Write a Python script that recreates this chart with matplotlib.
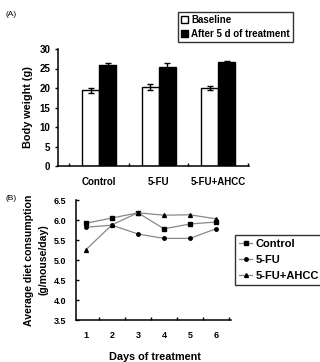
import matplotlib
matplotlib.use("Agg")
import matplotlib.pyplot as plt
import numpy as np
from matplotlib.patches import Patch

plt.rcParams['font.family'] = ['Liberation Sans', 'DejaVu Sans']
plt.rcParams['font.weight'] = 'bold'

groups = ["Control", "5-FU", "5-FU+AHCC"]
baseline = [19.4, 20.2, 19.95]
baseline_err = [0.7, 0.8, 0.5]
after = [25.8, 25.5, 26.55]
after_err = [0.7, 0.9, 0.45]

days = [1, 2, 3, 4, 5, 6]
control = [5.92, 6.05, 6.18, 5.78, 5.90, 5.95]
fu = [5.82, 5.87, 5.65, 5.54, 5.54, 5.78]
fu_ahcc = [5.26, 5.88, 6.18, 6.12, 6.13, 6.03]

W, H = 320, 362
fig = plt.figure(figsize=(W/100, H/100), dpi=100)

# Panel A
ax1 = fig.add_axes([58/W, 1-166/H, 191/W, 117/H])
x = np.arange(len(groups))
bw = 0.285
ekw = dict(ecolor='black', elinewidth=1.0, capsize=2, capthick=1.0)
ax1.bar(x - bw/2, baseline, bw, color='white', edgecolor='black', linewidth=1.0,
        yerr=baseline_err, error_kw=ekw)
ax1.bar(x + bw/2, after, bw, color='black', edgecolor='black', linewidth=1.0,
        yerr=after_err, error_kw=ekw)
ax1.set_xlim(-0.69, 2.52)
ax1.set_ylim(0, 30)
ax1.set_yticks([0, 5, 10, 15, 20, 25, 30])
ax1.set_xticks([-0.5, 0.5, 1.5, 2.5])
ax1.set_xticklabels([])
ax1.tick_params(axis='x', direction='in', length=2, width=1.0)
ax1.tick_params(axis='y', direction='out', length=2.5, width=1.0, labelsize=7, pad=3)
for g, xi in zip(groups, x):
    ax1.text(xi, -4.0, g, ha='center', va='center', fontsize=7, fontweight='bold')
for s in ['top', 'right']:
    ax1.spines[s].set_visible(False)
for s in ['left', 'bottom']:
    ax1.spines[s].set_linewidth(1.1)
ax1.set_ylabel("Body weight (g)", fontsize=7.8, fontweight='bold', labelpad=5)
handles = [Patch(facecolor='white', edgecolor='black', linewidth=1.0),
           Patch(facecolor='black', edgecolor='black')]
leg1 = fig.legend(handles, ["Baseline", "After 5 d of treatment"],
                  loc='upper left', bbox_to_anchor=(178/W, 1-12/H), prop=dict(size=7, weight='bold'),
                  frameon=True, fancybox=False, edgecolor='black', handlelength=0.7, handleheight=0.7,
                  handletextpad=0.35, borderpad=0.3, labelspacing=0.45, borderaxespad=0)
leg1.get_frame().set_linewidth(1.0)
fig.text(5/W, 1-15/H, "(A)", fontsize=6, fontweight='normal', va='center')

# Panel B
ax2 = fig.add_axes([76/W, 1-320/H, 155/W, 120/H])
lc = '#888888'
ax2.plot(days, control, color=lc, lw=0.9, marker='s', ms=2.5, mfc='black', mec='black', label="Control")
ax2.plot(days, fu, color=lc, lw=0.9, marker='o', ms=2.5, mfc='black', mec='black', label="5-FU")
ax2.plot(days, fu_ahcc, color=lc, lw=0.9, marker='^', ms=2.8, mfc='black', mec='black', label="5-FU+AHCC")
ax2.set_xlim(0.615, 6.58)
ax2.set_ylim(3.5, 6.5)
yt = [3.5, 4.0, 4.5, 5.0, 5.5, 6.0, 6.5]
ax2.set_yticks(yt)
ax2.set_yticklabels([f"{v:.1f}" for v in yt])
ax2.set_xticks([1.5, 2.5, 3.5, 4.5, 5.5, 6.5])
ax2.set_xticklabels([])
ax2.tick_params(axis='x', direction='in', length=2, width=1.0)
ax2.tick_params(axis='y', direction='in', length=2, width=1.0, labelsize=6.5, pad=7)
for d in days:
    ax2.text(d, 3.5 - 0.38, str(d), ha='center', va='center', fontsize=6.5, fontweight='bold')
ax2.text(3.65, 3.5 - 0.92, "Days of treatment", ha='center', va='center', fontsize=7.8, fontweight='bold')
for s in ['top', 'right']:
    ax2.spines[s].set_visible(False)
for s in ['left', 'bottom']:
    ax2.spines[s].set_linewidth(1.1)
ax2.set_ylabel("Average diet consumption\n(g/mouse/day)", fontsize=7.6, fontweight='bold', labelpad=4,
               linespacing=1.5)
leg2 = fig.legend(*ax2.get_legend_handles_labels(), loc='upper left', bbox_to_anchor=(235/W, 1-235/H),
                  prop=dict(size=8, weight='bold'), frameon=True, fancybox=False, edgecolor='black',
                  handlelength=1.2, handletextpad=0.3, borderpad=0.35, labelspacing=0.55, borderaxespad=0)
leg2.get_frame().set_linewidth(1.0)
fig.text(5/W, 1-198/H, "(B)", fontsize=6, fontweight='normal', va='center')

fig.savefig("out.png", dpi=100, facecolor='white')
